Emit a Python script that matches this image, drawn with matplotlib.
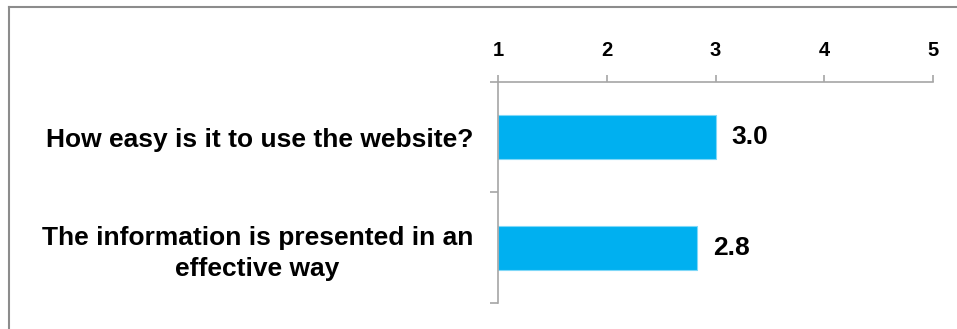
import matplotlib
matplotlib.use("Agg")
import matplotlib.pyplot as plt
from matplotlib.lines import Line2D

categories = ["How easy is it to use the website?",
              "The information is presented in an\neffective way"]
scores = [3.0, 2.83]
score_labels = ["3.0", "2.8"]
x_ticks = [1, 2, 3, 4, 5]

BAR_COLOR = "#00B0F0"
AXIS_GRAY = "#A6A6A6"

plt.rcParams["font.family"] = ["Liberation Sans", "DejaVu Sans"]
plt.rcParams["font.weight"] = "bold"

fig = plt.figure(figsize=(9.57, 3.29), dpi=100)
ax = fig.add_axes([0.5204, 0.079, 0.4545, 0.6718])

pos = list(range(len(categories)))
ax.barh(pos, [s - 1 for s in scores], left=1, height=0.4,
        color=BAR_COLOR, edgecolor="#7FD8F8", linewidth=0.8)

for p, s, lab in zip(pos, scores, score_labels):
    ax.annotate(lab, (s, p), xytext=(11.5, 0), textcoords="offset points",
                ha="left", va="center", fontsize=19, fontweight="bold")

ax.set_xlim(1, 5)
ax.set_ylim(len(categories) - 0.5, -0.5)
ax.xaxis.tick_top()
ax.set_xticks(x_ticks)
ax.set_xticklabels([str(t) for t in x_ticks], fontsize=14.5, fontweight="bold")
ax.tick_params(axis="x", direction="out", length=5, width=1.2,
               color=AXIS_GRAY, pad=11)

# boundary ticks on y, labels on minor ticks at category centres
ax.set_yticks([p - 0.5 for p in pos] + [pos[-1] + 0.5])
ax.set_yticklabels([])
ax.set_yticks(pos, minor=True)
ax.set_yticklabels(categories, minor=True, fontsize=19, fontweight="bold")
for t in ax.get_yticklabels(minor=True):
    t.set_multialignment("center")
    t.set_linespacing(1.35)
ax.tick_params(axis="y", which="major", direction="out", length=5.5,
               width=1.2, color=AXIS_GRAY)
ax.tick_params(axis="y", which="minor", length=0, pad=18)

for side in ("right", "bottom"):
    ax.spines[side].set_visible(False)
for side in ("top", "left"):
    ax.spines[side].set_color(AXIS_GRAY)
    ax.spines[side].set_linewidth(1.2)

# partial frame of the original chart area
fig.add_artist(Line2D([0.0094, 1.0], [0.9787, 0.9787], color="#8C8C8C",
                      linewidth=1.5, transform=fig.transFigure))
fig.add_artist(Line2D([0.0094, 0.0094], [0.0, 0.9787], color="#8C8C8C",
                      linewidth=1.5, transform=fig.transFigure))

fig.savefig("out.png", dpi=100)
